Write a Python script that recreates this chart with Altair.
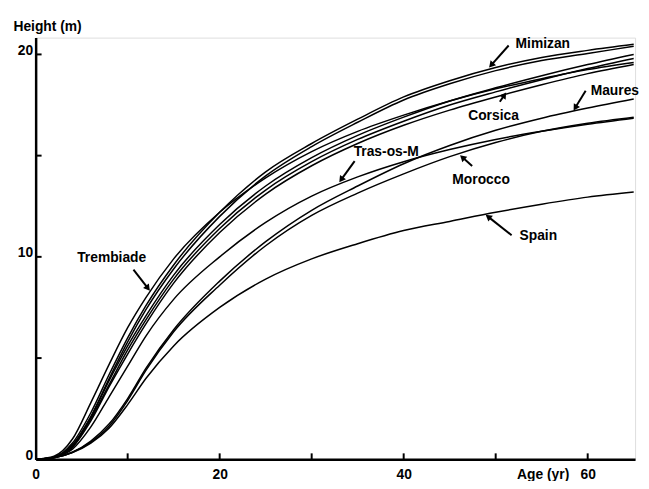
import math
import altair as alt
import pandas as pd

# ---- data ----
ages = [0, 2, 4, 6, 8, 10, 12, 15, 20, 25, 30, 35, 40, 45, 50, 55, 60, 65]

mimizan   = [0, 0.1, 0.8, 2.3, 4.2, 6.0, 7.6, 9.6, 12.2, 14.2, 15.6, 16.8, 17.9, 18.7, 19.35, 19.85, 20.2, 20.5]
mimizan_b = [0, 0.1, 0.7, 2.1, 4.0, 5.8, 7.4, 9.4, 12.0, 14.0, 15.45, 16.65, 17.75, 18.55, 19.2, 19.7, 20.05, 20.4]
trembiade = [0, 0.15, 1.0, 2.8, 4.7, 6.5, 8.0, 9.9, 12.2, 13.9, 15.2, 16.2, 17.0, 17.7, 18.3, 18.8, 19.25, 19.6]
corsica   = [0, 0.1, 0.7, 2.1, 3.9, 5.6, 7.1, 9.1, 11.6, 13.5, 14.9, 16.0, 16.9, 17.7, 18.35, 18.95, 19.5, 20.0]
other_c   = [0, 0.1, 0.6, 2.0, 3.7, 5.4, 6.9, 8.9, 11.4, 13.3, 14.7, 15.8, 16.7, 17.5, 18.15, 18.75, 19.3, 19.8]
other_d   = [0, 0.1, 0.6, 1.9, 3.6, 5.2, 6.7, 8.7, 11.2, 13.1, 14.5, 15.6, 16.5, 17.25, 17.9, 18.5, 19.05, 19.5]
tras      = [0, 0.1, 0.5, 1.6, 3.1, 4.6, 6.1, 7.9, 10.0, 11.7, 13.0, 13.95, 14.7, 15.3, 15.8, 16.2, 16.55, 16.85]
maures    = [0, 0.08, 0.35, 0.9, 1.75, 3.0, 4.5, 6.4, 8.8, 10.75, 12.3, 13.5, 14.6, 15.5, 16.25, 16.85, 17.35, 17.8]
morocco   = [0, 0.08, 0.35, 0.85, 1.65, 2.9, 4.4, 6.3, 8.6, 10.55, 12.05, 13.15, 14.1, 14.95, 15.65, 16.2, 16.6, 16.9]
spain     = [0, 0.08, 0.33, 0.8, 1.55, 2.7, 4.0, 5.6, 7.5, 8.9, 9.9, 10.65, 11.3, 11.75, 12.2, 12.6, 12.95, 13.2]

series = {
    "Mimizan": mimizan, "Mimizan b": mimizan_b, "Trembiade": trembiade,
    "Corsica": corsica, "c": other_c, "d": other_d, "Tras-os-M": tras,
    "Maures": maures, "Morocco": morocco, "Spain": spain,
}

# annotation labels (data units)
label_text = ["Mimizan", "Corsica", "Maures", "Tras-os-M", "Morocco", "Spain", "Trembiade"]
label_age  = [52.16, 47.01, 60.32, 34.56, 45.29, 52.59, 4.51]
label_h    = [20.34, 16.78, 18.0, 14.98, 13.61, 10.83, 9.76]

# arrows: tail -> tip (data units)
arrow_age1 = [51.41, 50.45, 59.78, 34.67, 47.44, 51.73, 10.63]
arrow_h1   = [20.44, 17.66, 18.20, 14.73, 14.49, 11.07, 9.37]
arrow_age2 = [49.59, 50.88, 58.71, 33.27, 46.47, 49.27, 12.13]
arrow_h2   = [19.51, 17.95, 17.41, 13.85, 14.88, 11.95, 8.49]

x_ticks = [10, 20, 30, 40, 50, 60]
y_ticks = [5, 10, 15, 20]
x_labels = [0, 20, 40, 60]
y_labels = [0, 10, 20]

# ---- layout ----
W, H = 607, 427
XMAX, YMAX = 65.15, 20.83
FONT = "Liberation Sans"

rows = []
for name, vals in series.items():
    for a, h in zip(ages, vals):
        rows.append({"curve": name, "age": a, "height": h})
df = pd.DataFrame(rows)

kx, ky = W / XMAX, H / YMAX
angles = []
for a1, h1, a2, h2 in zip(arrow_age1, arrow_h1, arrow_age2, arrow_h2):
    dx = (a2 - a1) * kx
    dy = -(h2 - h1) * ky
    angles.append(math.degrees(math.atan2(dx, -dy)) % 360)

arrows = pd.DataFrame({"age": arrow_age1, "height": arrow_h1,
                       "age2": arrow_age2, "height2": arrow_h2, "angle": angles})
labels = pd.DataFrame({"age": label_age, "height": label_h, "label": label_text})
xt = pd.DataFrame({"age": x_ticks})
yt = pd.DataFrame({"height": y_ticks})

xscale = alt.Scale(domain=[0, XMAX], nice=False, zero=False)
yscale = alt.Scale(domain=[0, YMAX], nice=False, zero=False)

lines = alt.Chart(df).mark_line(interpolate="monotone", color="black", strokeWidth=1.5).encode(
    x=alt.X("age:Q", scale=xscale, axis=alt.Axis(
        values=x_labels, ticks=False, grid=False, domainColor="black", domainWidth=2.5,
        labelFont=FONT, labelFontSize=14, labelFontWeight="bold", labelColor="black",
        labelPadding=8, labelFlush=False,
        title="Age (yr)", titleFont=FONT, titleFontSize=14, titleFontWeight="bold",
        titleColor="black", titleX=487, titleY=19, titleAlign="left",
        titleBaseline="alphabetic")),
    y=alt.Y("height:Q", scale=yscale, axis=alt.Axis(
        values=y_labels, ticks=False, grid=False, domainColor="black", domainWidth=2.5,
        labelFont=FONT, labelFontSize=14, labelFontWeight="bold", labelColor="black",
        labelPadding=3, labelBaseline="alphabetic", labelFlush=False,
        title="Height (m)", titleFont=FONT, titleFontSize=14, titleFontWeight="bold",
        titleColor="black", titleAngle=0, titleX=-23, titleY=-7, titleAlign="left",
        titleBaseline="alphabetic")),
    detail="curve:N",
)

xtick_marks = alt.Chart(xt).mark_rule(color="black", strokeWidth=2).encode(
    x="age:Q", y=alt.value(H), y2=alt.value(H - 6))
ytick_marks = alt.Chart(yt).mark_rule(color="black", strokeWidth=2).encode(
    y="height:Q", x=alt.value(0), x2=alt.value(6))

shafts = alt.Chart(arrows).mark_rule(color="black", strokeWidth=2).encode(
    x="age:Q", y="height:Q", x2="age2:Q", y2="height2:Q")
heads = alt.Chart(arrows).mark_point(shape="triangle", filled=True, color="black",
                                     size=55, opacity=1).encode(
    x="age2:Q", y="height2:Q", angle=alt.Angle("angle:Q", scale=None))

texts = alt.Chart(labels).mark_text(align="left", baseline="alphabetic", font=FONT,
                                    fontSize=14, fontWeight="bold", color="black").encode(
    x="age:Q", y="height:Q", text="label:N")

chart = alt.layer(lines, xtick_marks, ytick_marks, shafts, heads, texts).properties(
    width=W, height=H,
    autosize=alt.AutoSizeParams(type="none"),
    padding={"left": 28, "top": 27, "right": 6, "bottom": 19},
).configure_view(strokeWidth=0).configure(background="white")

chart.save("out.html", embed_options={"renderer": "svg", "actions": False})
